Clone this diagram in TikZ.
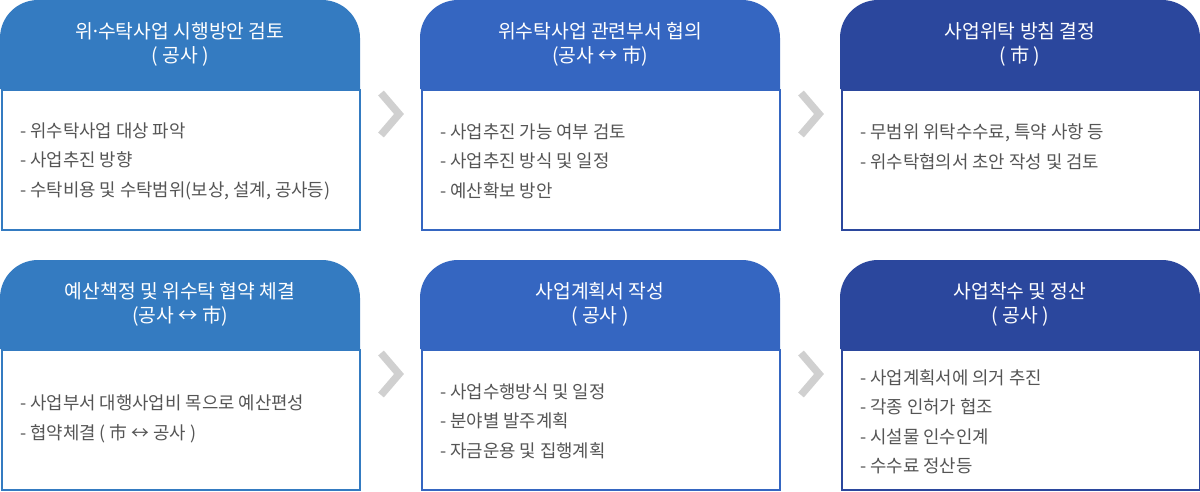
\documentclass[tikz,border=0pt]{standalone}
\usepackage{fontspec}
\setmainfont{Noto Sans CJK KR}
\usepackage{tikz}

\definecolor{hdrA}{RGB}{52,123,193}
\definecolor{hdrB}{RGB}{53,102,193}
\definecolor{hdrC}{RGB}{43,71,157}
\definecolor{itemgray}{RGB}{85,85,85}
\definecolor{chevgray}{RGB}{208,208,208}

% #1 name, #2 left x, #3 top y, #4 colour, #5 title, #6 items, #7 shift of the items
\newcommand{\stagebox}[7]{%
  \fill[#4] (#2,#3+89) -- (#2,#3+38) arc[start angle=180,end angle=270,radius=38]
    -- (#2+322,#3) arc[start angle=270,end angle=360,radius=38] -- (#2+360,#3+89) -- cycle;
  \node[title] (#1-t) at (#2+180,#3+44) {#5};
  \node[body, draw=#4] (#1) at (#2+1,#3+89) {};
  \node[items] (#1-i) at ([xshift=19pt,yshift=#7]#1.west) {#6};
}

\begin{document}
\begin{tikzpicture}[x=1pt, y=-1pt,
    title/.style={align=center, text=white, inner sep=0pt, font=\fontsize{19.3}{24}\selectfont},
    body/.style={anchor=north west, line width=2pt, fill=white, minimum width=358pt, minimum height=140pt, inner sep=0pt},
    items/.style={anchor=west, align=left, text=itemgray, inner sep=0pt, font=\fontsize{17.8}{29.5}\selectfont},
    chev/.style={draw=chevgray, line width=7.5pt, miter limit=4}]
  \useasboundingbox (0,0) rectangle (1200,491);

  % First row
  \stagebox{s1}{0}{0}{hdrA}{위\kern-3pt·\kern-3pt수탁사업 시행방안 검토\\( 공사 )}
    {- 위수탁사업 대상 파악\\- 사업추진 방향\\- 수탁비용 및 수탁범위(보상, 설계, 공사등)}{-1pt}
  \stagebox{s2}{420}{0}{hdrB}{위수탁사업 관련부서 협의\\(공사 ↔ 市)}
    {- 사업추진 가능 여부 검토\\- 사업추진 방식 및 일정\\- 예산확보 방안}{-1pt}
  \stagebox{s3}{840}{0}{hdrC}{사업위탁 방침 결정\\( 市 )}
    {- 무범위 위탁수수료, 특약 사항 등\\- 위수탁협의서 초안 작성 및 검토}{13pt}

  % Second row
  \stagebox{s4}{0}{260}{hdrA}{예산책정 및 위수탁 협약 체결\\(공사 ↔ 市)}
    {- 사업부서 대행사업비 목으로 예산편성\\- 협약체결 ( 市 ↔ 공사 )}{1pt}
  \stagebox{s5}{420}{260}{hdrB}{사업계획서 작성\\( 공사 )}
    {- 사업수행방식 및 일정\\- 분야별 발주계획\\- 자금운용 및 집행계획}{-1pt}
  \stagebox{s6}{840}{260}{hdrC}{사업착수 및 정산\\( 공사 )}
    {- 사업계획서에 의거 추진\\- 각종 인허가 협조\\- 시설물 인수인계\\- 수수료 정산등}{-2pt}

  % Arrows
  \coordinate (c12) at (390,114);
  \coordinate (c23) at (810,114);
  \coordinate (c45) at (390,374);
  \coordinate (c56) at (810,374);
  \foreach \c in {c12,c23,c45,c56}
    \draw[chev] (\c) ++(-9,-21) -- ++(18,21) -- ++(-18,21);
\end{tikzpicture}
\end{document}
